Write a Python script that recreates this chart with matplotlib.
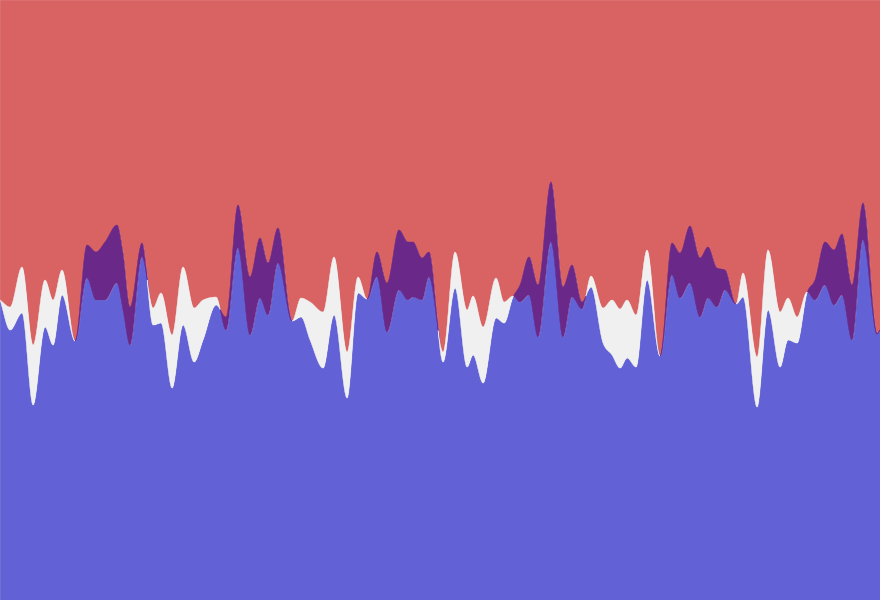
import numpy as np
import matplotlib
matplotlib.use("Agg")
import matplotlib.pyplot as plt

# two series sampled at the same positions; purple where s1 > s2, grey where s2 > s1
t = [0, 10, 22, 33, 45, 53, 62, 75, 87, 96, 105, 117, 123, 130, 142, 153, 161,
     172, 183, 194, 203, 216, 226, 238, 250, 260, 268, 278, 292, 301, 310, 323,
     334, 347, 358, 367, 377, 387, 399, 408, 413, 422, 429, 443, 455, 467, 473,
     483, 496, 504, 513, 520, 529, 538, 551, 563, 572, 582, 591, 603, 612, 620,
     627, 636, 647, 660, 672, 680, 690, 700, 708, 717, 725, 736, 743, 757, 768,
     780, 788, 797, 807, 815, 825, 834, 842, 852, 863, 877, 880]
s1 = [300, 270, 287, 195, 273, 255, 305, 259, 355, 348, 358, 375, 347, 293, 357, 275, 277,
      212, 275, 238, 260, 295, 283, 395, 323, 362, 337, 372, 279, 283, 260, 232,
      285, 202, 307, 301, 348, 317, 370, 358, 358, 342, 348, 238, 312, 233, 245,
      217, 282, 277, 303, 315, 343, 315, 418, 313, 335, 298, 313, 257, 245, 232,
      242, 233, 320, 244, 357, 347, 374, 342, 353, 332, 330, 296, 303, 193, 290,
      233, 260, 257, 307, 320, 358, 350, 366, 315, 397, 266, 270]
s2 = [300, 293, 333, 255, 320, 300, 330, 259, 322, 300, 300, 317, 290, 255, 343, 292, 307,
      265, 333, 292, 300, 303, 270, 352, 265, 302, 285, 337, 279, 302, 298, 288,
      343, 248, 323, 301, 323, 268, 310, 300, 303, 300, 323, 248, 348, 290, 304,
      273, 322, 298, 304, 298, 305, 263, 358, 263, 303, 291, 324, 292, 300, 291,
      300, 285, 350, 244, 325, 302, 317, 283, 302, 293, 310, 296, 327, 243, 350,
      288, 302, 283, 308, 300, 315, 295, 305, 260, 360, 266, 270]

RED = '#d96262'
BLUE = '#6262d6'
PURPLE = '#6a2888'
GREY = '#f0f0f0'


def monotone(x, y, xs):
    # monotone cubic (like d3 curveMonotoneX), only used for drawing
    x = np.asarray(x, float)
    y = np.asarray(y, float)
    h = np.diff(x)
    d = np.diff(y) / h
    m = np.zeros(len(x))
    s0, s1_ = d[:-1], d[1:]
    h0, h1 = h[:-1], h[1:]
    p = (s0 * h1 + s1_ * h0) / (h0 + h1)
    m[1:-1] = (np.sign(s0) + np.sign(s1_)) * np.minimum(np.minimum(abs(s0), abs(s1_)), 0.5 * abs(p))
    m[0] = d[0]
    m[-1] = d[-1]
    i = np.clip(np.searchsorted(x, xs) - 1, 0, len(x) - 2)
    hh = h[i]
    u = (xs - x[i]) / hh
    h00 = 2 * u**3 - 3 * u**2 + 1
    h10 = u**3 - 2 * u**2 + u
    h01 = -2 * u**3 + 3 * u**2
    h11 = u**3 - u**2
    return h00 * y[i] + h10 * hh * m[i] + h01 * y[i + 1] + h11 * hh * m[i + 1]


xs = np.linspace(t[0], t[-1], 3000)
a = monotone(t, s1, xs)
b = monotone(t, s2, xs)

fig = plt.figure(figsize=(8.8, 6), dpi=100)
ax = fig.add_axes([0, 0, 1, 1])
ax.set_xlim(0, 880)
ax.set_ylim(0, 600)
ax.axis('off')

hi = np.maximum(a, b)
lo = np.minimum(a, b)
ax.fill_between(xs, hi, 600, color=RED, lw=0.6, ec=RED)
ax.fill_between(xs, 0, lo, color=BLUE, lw=0.6, ec=BLUE)
ax.fill_between(xs, a, b, where=a >= b, interpolate=True, color=PURPLE, lw=0.3, ec=PURPLE)
ax.fill_between(xs, a, b, where=a < b, interpolate=True, color=GREY, lw=0.3, ec=GREY)

fig.savefig('out.png', dpi=100)
